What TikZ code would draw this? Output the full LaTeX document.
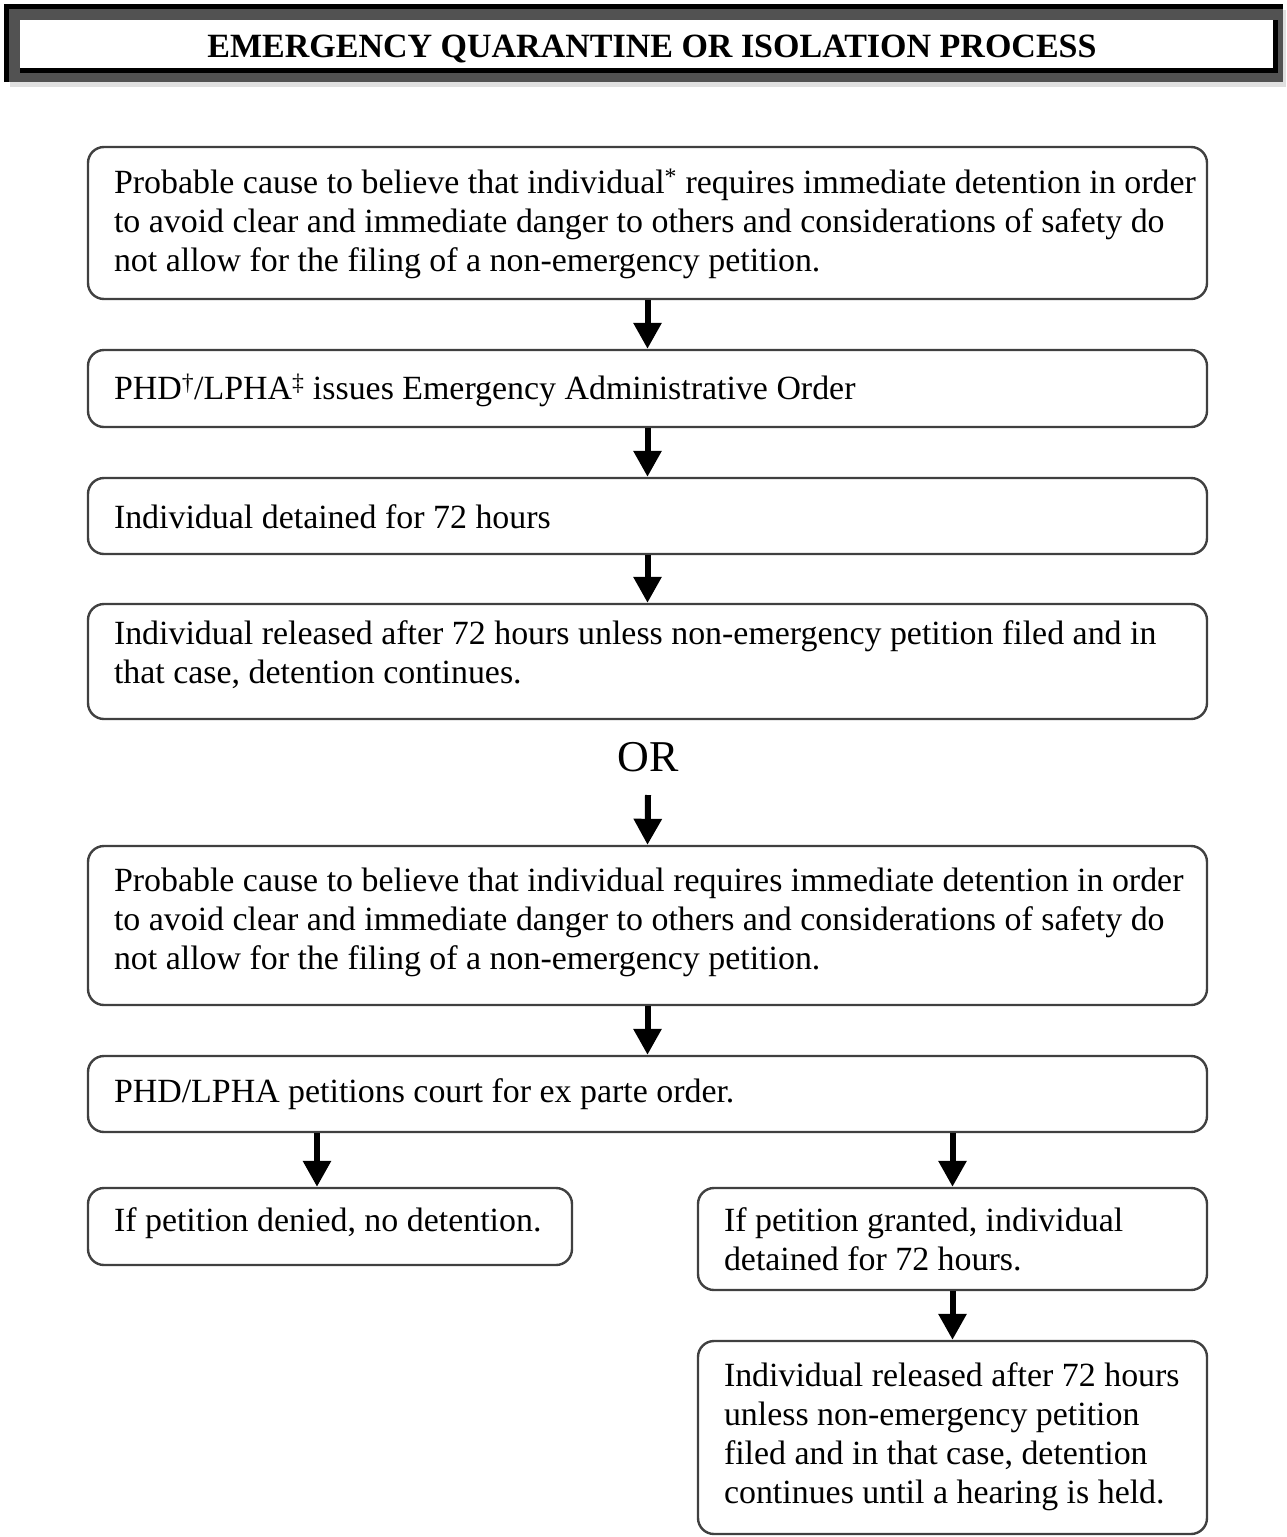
\documentclass[tikz,border=0pt]{standalone}
\usepackage{fontspec}
\setmainfont{Liberation Serif}
\usetikzlibrary{arrows.meta,calc}
\begin{document}
\begin{tikzpicture}[x=1pt,y=-1pt,
  flowbox/.style={draw=black!75,line width=2.4pt,rounded corners=16pt,fill=white,inner sep=0pt},
  txt/.style={anchor=west,align=left,inner sep=0pt,font=\fontsize{33.9}{39}\selectfont},
  arr/.style={line width=6pt,-{Triangle[width=27pt,length=26pt]}},
]
\useasboundingbox (0,0) rectangle (1286,1537);
% title frame
\fill[black!12] (10,10) rectangle (1286,87);
\fill[black!68] (6,6) rectangle (1283,82);
\draw[line width=5pt] (6,82) -- (6,6) -- (1283,6);
\fill[white] (20,20) rectangle (1275,70);
\draw[line width=5pt] (20,70) -- (1275,70) -- (1275,20);
\node[font=\bfseries\fontsize{34}{40}\selectfont,inner sep=0pt] (title) at (652,48.5) {EMERGENCY QUARANTINE OR ISOLATION PROCESS};

% boxes
\node[flowbox,minimum width=1119pt,minimum height=152pt] (b1) at (647.5,223) {};
\node[flowbox,minimum width=1119pt,minimum height=77pt] (b2) at (647.5,388.5) {};
\node[flowbox,minimum width=1119pt,minimum height=76pt] (b3) at (647.5,516) {};
\node[flowbox,minimum width=1119pt,minimum height=115pt] (b4) at (647.5,661.5) {};
\node[font=\fontsize{44}{50}\selectfont,inner sep=0pt] (or) at (648,757) {OR};
\node[flowbox,minimum width=1119pt,minimum height=159pt] (b5) at (647.5,925.5) {};
\node[flowbox,minimum width=1119pt,minimum height=76pt] (b6) at (647.5,1094) {};
\node[flowbox,minimum width=484pt,minimum height=77pt] (b7) at (330,1226.5) {};
\node[flowbox,minimum width=509pt,minimum height=102pt] (b8) at (952.5,1239) {};
\node[flowbox,minimum width=509pt,minimum height=193pt] (b9) at (952.5,1437.5) {};

% texts
\node[txt] (t1) at ($(b1.west)+(27,1)$) {Probable cause to believe that individual\textsuperscript{*} requires immediate detention in order\\to avoid clear and immediate danger to others and considerations of safety do\\not allow for the filing of a non-emergency petition.};
\node[txt] (t2) at ($(b2.west)+(27,1.5)$) {PHD\textsuperscript{†}/LPHA\textsuperscript{‡} issues Emergency Administrative Order};
\node[txt] (t3) at ($(b3.west)+(27,1)$) {Individual detained for 72 hours};
\node[txt] (t4) at ($(b4.west)+(27,-7)$) {Individual released after 72 hours unless non-emergency petition filed and in\\that case, detention continues.};
\node[txt] (t5) at ($(b5.west)+(27,-3)$) {Probable cause to believe that individual requires immediate detention in order\\to avoid clear and immediate danger to others and considerations of safety do\\not allow for the filing of a non-emergency petition.};
\node[txt] (t6) at ($(b6.west)+(27,0)$) {PHD/LPHA petitions court for ex parte order.};
\node[txt] (t7) at ($(b7.west)+(27,-3)$) {If petition denied, no detention.};
\node[txt] (t8) at ($(b8.west)+(27,0)$) {If petition granted, individual\\detained for 72 hours.};
\node[txt] (t9) at ($(b9.west)+(27,-1)$) {Individual released after 72 hours\\unless non-emergency petition\\filed and in that case, detention\\continues until a hearing is held.};

% arrows
\draw[arr] (b1.south) -- (b2.north);
\draw[arr] (b2.south) -- (b3.north);
\draw[arr] (b3.south) -- (b4.north);
\coordinate (orA) at (648,795);
\draw[arr] (orA) -- (b5.north);
\draw[arr] (b5.south) -- (b6.north);
\coordinate (c7) at ([xshift=-13pt]b7.north);
\draw[arr] (b6.south -| c7) -- (c7);
\draw[arr] (b6.south -| b8.north) -- (b8.north);
\draw[arr] (b8.south) -- (b9.north);
\end{tikzpicture}
\end{document}
